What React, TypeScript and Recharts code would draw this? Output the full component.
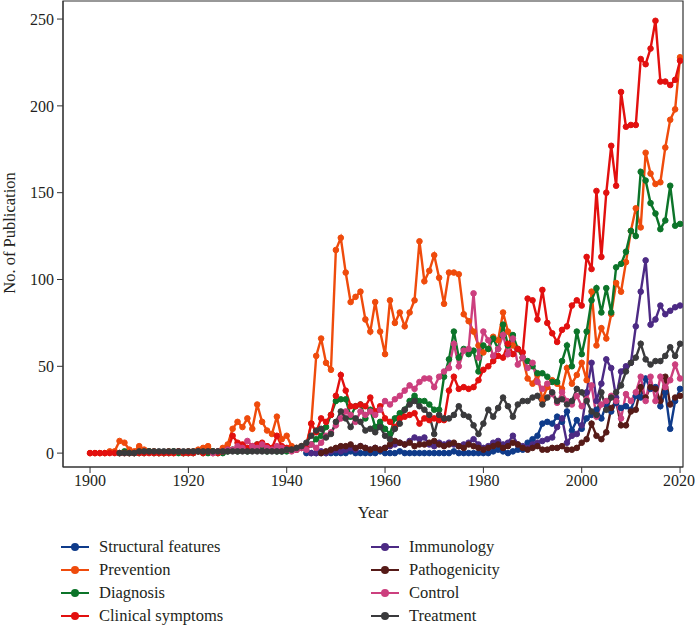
import React from 'react';
import { LineChart, Line, XAxis, YAxis, ReferenceArea, Legend, Label } from 'recharts';

const FONT = "'Liberation Serif', 'Times New Roman', Times, serif";

const firstYear = 1900;
const lastYear = 2020;
const years: number[] = [];
for (let y = firstYear; y <= lastYear; y++) years.push(y);

const xTicks = [1900, 1920, 1940, 1960, 1980, 2000, 2020];
const yTicks = [0, 50, 100, 150, 200, 250];

// Structural features, from 1944
const structural = [
  0, 0, 0, 0, 0, 0,
  0, 0, 0, 1, 0, 0, 0, 0, 0, 1,
  0, 0, 0, 1, 0, 0, 0, 0, 0, 0,
  0, 0, 0, 0, 1, 0, 0, 0, 0, 0,
  0, 0, 1, 2, 1, 0, 1, 2, 2, 6,
  8, 10, 17, 18, 17, 21, 18, 24, 13, 19,
  14, 20, 22, 25, 20, 28, 24, 29, 26, 27,
  25, 33, 32, 43, 37, 38, 27, 35, 14, 30,
  37,
];

// Prevention, from 1900
const prevention = [
  0, 0, 0, 0, 1, 1, 7, 6, 2, 1,
  4, 2, 1, 1, 0, 0, 1, 0, 1, 0,
  1, 1, 2, 3, 4, 1, 1, 3, 5, 14,
  18, 15, 20, 14, 28, 18, 13, 11, 21, 8,
  10, 4, 3, 4, 5, 17, 56, 66, 52, 48,
  117, 124, 104, 87, 90, 93, 77, 70, 87, 70,
  57, 88, 75, 81, 73, 81, 88, 122, 99, 105,
  114, 101, 86, 104, 104, 103, 80, 76, 70, 62,
  58, 60, 67, 65, 81, 70, 62, 60, 55, 43,
  40, 45, 31, 38, 42, 40, 37, 49, 40, 45,
  52, 42, 93, 62, 72, 66, 80, 98, 93, 110,
  128, 141, 130, 173, 161, 155, 156, 176, 192, 198,
  228,
];

// Diagnosis, from 1906
const diagnosis = [
  0, 1, 0, 0,
  0, 0, 1, 0, 0, 0, 0, 1, 0, 0,
  0, 0, 1, 0, 0, 1, 0, 0, 1, 2,
  1, 2, 1, 2, 5, 2, 1, 2, 1, 1,
  1, 2, 2, 3, 4, 5, 8, 10, 15, 22,
  30, 31, 31, 21, 27, 28, 20, 25, 15, 18,
  14, 11, 20, 23, 25, 30, 33, 30, 30, 28,
  25, 25, 44, 54, 70, 55, 60, 57, 59, 47,
  62, 60, 66, 60, 74, 62, 68, 60, 55, 53,
  50, 46, 46, 44, 41, 41, 53, 62, 50, 70,
  57, 70, 88, 95, 81, 95, 81, 107, 109, 116,
  128, 125, 162, 157, 144, 138, 129, 134, 154, 131,
  132,
];

// Clinical symptoms, from 1900
const clinical = [
  0, 0, 0, 0, 0, 0, 0, 0, 0, 0,
  0, 0, 0, 0, 0, 0, 0, 0, 1, 0,
  0, 0, 1, 0, 1, 0, 0, 1, 2, 10,
  6, 5, 3, 4, 5, 6, 4, 3, 10, 4,
  3, 2, 2, 3, 4, 17, 12, 20, 18, 22,
  33, 45, 36, 27, 27, 28, 27, 32, 24, 27,
  20, 18, 15, 20, 21, 22, 23, 17, 20, 19,
  20, 19, 19, 36, 44, 37, 38, 37, 38, 42,
  48, 50, 53, 56, 55, 63, 57, 60, 58, 89,
  88, 77, 94, 75, 69, 64, 71, 73, 85, 88,
  85, 113, 106, 151, 113, 150, 177, 154, 208, 188,
  189, 189, 227, 224, 233, 249, 214, 214, 212, 215,
  226,
];

// Immunology, from 1945
const immunology = [
  0, 0, 1, 0, 1,
  2, 1, 2, 3, 2, 4, 3, 2, 3, 2,
  3, 4, 5, 6, 5, 7, 9, 8, 9, 5,
  4, 6, 5, 6, 5, 4, 5, 6, 8, 5,
  3, 4, 6, 7, 5, 6, 10, 5, 4, 3,
  5, 6, 7, 8, 9, 15, 20, 6, 10, 11,
  16, 35, 52, 30, 40, 54, 49, 32, 47, 50,
  52, 73, 93, 111, 74, 77, 85, 80, 82, 84,
  85,
];

// Pathogenicity, from 1947
const pathogenicity = [
  0, 1, 2,
  3, 4, 4, 5, 3, 4, 3, 2, 3, 2,
  3, 5, 7, 6, 5, 6, 4, 5, 5, 6,
  7, 5, 4, 5, 6, 4, 3, 5, 4, 3,
  2, 3, 4, 5, 3, 4, 6, 5, 3, 2,
  3, 4, 2, 2, 3, 3, 4, 2, 2, 3,
  6, 8, 17, 10, 8, 12, 26, 30, 16, 16,
  24, 25, 38, 32, 38, 37, 30, 44, 28, 32,
  33,
];

// Control, from 1925
const control = [
  0, 1, 1, 2, 2,
  4, 3, 7, 4, 3, 5, 3, 2, 4, 3,
  2, 1, 2, 3, 2, 5, 3, 6, 10, 12,
  16, 20, 24, 22, 18, 24, 22, 24, 22, 25,
  30, 28, 31, 33, 36, 39, 37, 41, 43, 43,
  38, 44, 47, 49, 63, 50, 59, 60, 92, 55,
  70, 65, 56, 60, 68, 57, 66, 51, 55, 49,
  52, 41, 37, 40, 34, 29, 35, 30, 28, 33,
  27, 31, 39, 21, 28, 30, 33, 30, 20, 34,
  30, 35, 44, 30, 44, 30, 44, 38, 42, 51,
  43,
];

// Treatment, from 1906
const treatment = [
  0, 0, 0, 0,
  1, 1, 1, 1, 1, 1, 1, 1, 1, 1,
  1, 1, 1, 1, 1, 1, 1, 1, 1, 1,
  1, 1, 1, 1, 1, 1, 1, 1, 1, 1,
  2, 2, 3, 4, 6, 10, 13, 14, 9, 11,
  18, 24, 20, 15, 20, 18, 13, 14, 12, 15,
  10, 8, 14, 17, 25, 28, 30, 27, 25, 22,
  11, 22, 20, 20, 22, 27, 22, 21, 16, 11,
  17, 25, 21, 26, 32, 27, 21, 28, 30, 30,
  32, 33, 28, 32, 35, 30, 31, 28, 30, 37,
  35, 30, 24, 22, 35, 25, 32, 35, 39, 47,
  52, 55, 63, 54, 51, 53, 53, 56, 61, 56,
  63,
];

const series = [
  { key: 'structural', name: 'Structural features', color: '#0f3b8a', start: 1944, values: structural },
  { key: 'prevention', name: 'Prevention', color: '#ef4b0c', start: 1900, values: prevention },
  { key: 'diagnosis', name: 'Diagnosis', color: '#0c7429', start: 1906, values: diagnosis },
  { key: 'clinical', name: 'Clinical symptoms', color: '#e2100f', start: 1900, values: clinical },
  { key: 'immunology', name: 'Immunology', color: '#4c2a84', start: 1945, values: immunology },
  { key: 'pathogenicity', name: 'Pathogenicity', color: '#561b18', start: 1947, values: pathogenicity },
  { key: 'control', name: 'Control', color: '#cc3f7e', start: 1925, values: control },
  { key: 'treatment', name: 'Treatment', color: '#3a3a3c', start: 1906, values: treatment },
];

const data = years.map((year) => {
  const row: Record<string, number | null> = { year };
  series.forEach((s) => {
    const v = s.values[year - s.start];
    row[s.key] = year >= s.start && v !== undefined ? v : null;
  });
  return row;
});

const renderLegend = () => (
  <div style={{ position: 'relative', width: 695, height: 92, fontFamily: FONT, fontSize: 16.5, color: '#231f20' }}>
    {series.map((s, i) => {
      const col = i < 4 ? 0 : 1;
      const row = i % 4;
      return (
        <div
          key={s.key}
          style={{
            position: 'absolute',
            left: col === 0 ? 61 : 371,
            top: row * 23,
            height: 22,
            display: 'flex',
            alignItems: 'center',
            whiteSpace: 'nowrap',
          }}
        >
          <svg width={28} height={10} style={{ display: 'block' }}>
            <line x1={0} y1={5} x2={28} y2={5} stroke={s.color} strokeWidth={2} />
            <circle cx={14} cy={5} r={4} fill={s.color} />
          </svg>
          <span style={{ marginLeft: 10 }}>{s.name}</span>
        </div>
      );
    })}
  </div>
);

const tickStyle = { fontFamily: FONT, fontSize: 16, fill: '#231f20' };

export default function App() {
  return (
    <div style={{ position: 'absolute', left: 0, top: 0, width: 695, height: 625, background: '#fff' }}>
      <LineChart width={695} height={625} data={data} margin={{ top: 1, right: 12, left: 0, bottom: 113 }}>
        <XAxis
          dataKey="year"
          type="number"
          domain={[1894.5, 2020.6]}
          ticks={xTicks}
          allowDataOverflow
          height={45}
          tickSize={6}
          tickMargin={2}
          stroke="#333"
          tick={tickStyle}
        >
          <Label
            content={() => (
              <text x={373} y={518} textAnchor="middle" fontFamily={FONT} fontSize={16.5} fill="#231f20">
                Year
              </text>
            )}
          />
        </XAxis>
        <YAxis
          type="number"
          domain={[-8, 260.4]}
          ticks={yTicks}
          allowDataOverflow
          width={63}
          tickSize={6}
          tickMargin={3}
          stroke="#333"
          tick={tickStyle}
        >
          <Label
            content={() => (
              <text
                x={15}
                y={233}
                transform="rotate(-90, 15, 233)"
                textAnchor="middle"
                fontFamily={FONT}
                fontSize={16.5}
                fill="#231f20"
              >
                No. of Publication
              </text>
            )}
          />
        </YAxis>
        <ReferenceArea x1={1894.5} x2={2020.6} y1={-8} y2={260.4} fill="none" stroke="#333" strokeWidth={1.2} />
        {series.map((s) => (
          <Line
            key={s.key}
            dataKey={s.key}
            name={s.name}
            type="linear"
            stroke={s.color}
            strokeWidth={2.4}
            dot={{ r: 2.8, fill: s.color, stroke: s.color, strokeWidth: 1 }}
            activeDot={false}
            connectNulls={false}
            isAnimationActive={false}
          />
        ))}
        <Legend
          layout="horizontal"
          verticalAlign="middle"
          align="center"
          wrapperStyle={{ left: 0, top: 536, width: 695 }}
          content={renderLegend}
        />
      </LineChart>
    </div>
  );
}
